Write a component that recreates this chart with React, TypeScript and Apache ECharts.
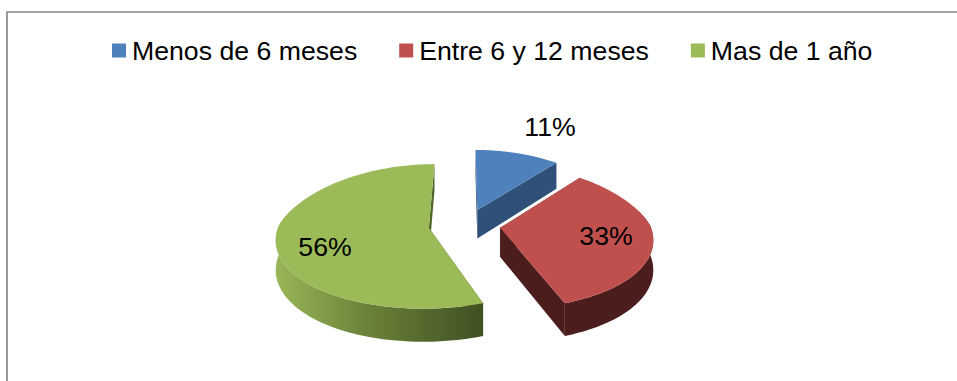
import React, { useEffect, useRef } from "react";
import * as echarts from "echarts";

const categories = ["Menos de 6 meses", "Entre 6 y 12 meses", "Mas de 1 año"];
const counts = [1, 3, 5];
const topColors = ["#4f81bd", "#c0504d", "#9bbb59"];
const wallColors = ["#2f5079", "#4b1d1c", ""];

// layout of the tilted, exploded disc
const CX = 466, CY = 225, RX = 150, RY = 70.6, KX_BACK = 0.2, KX_FRONT = 0.14, KY = 0.118, DEPTH = 29, EXPLODE = 0.23;
const sliceNudgeX = [0, 0, -3];
const labelCentres = [[550, 127], [606, 236], [325, 247]];
const FONT = '"Liberation Sans", Arial, sans-serif';

const total = counts.reduce((a, b) => a + b, 0);

function project(u: number, v: number, drop = 0, nudge = 0): number[] {
  const sx = 1 / (1 - (v < 0 ? KX_BACK : KX_FRONT) * v);
  const sy = 1 / (1 - KY * v);
  return [CX + nudge + RX * u * sx, CY + RY * v * sy + drop * sy];
}

function makeSeries(index: number) {
  const before = counts.slice(0, index).reduce((a, b) => a + b, 0);
  const nudge = sliceNudgeX[index];
  const renderItem = (_p: any, api: any) => {
    const value = api.value(0) as number;
    const a0 = (before / total) * Math.PI * 2;
    const a1 = ((before + value) / total) * Math.PI * 2;
    const mid = (a0 + a1) / 2;
    const ou = Math.sin(mid) * EXPLODE;
    const ov = -Math.cos(mid) * EXPLODE;
    const rim: number[][] = [];
    const steps = 90;
    for (let i = 0; i <= steps; i++) {
      const a = a0 + ((a1 - a0) * i) / steps;
      rim.push([ou + Math.sin(a), ov - Math.cos(a)]);
    }
    const top = rim.map(([u, v]) => project(u, v, 0, nudge));
    const apex = project(ou, ov, 0, nudge);
    const apexLow = project(ou, ov, DEPTH, nudge);
    const first = rim[0];
    const last = rim[rim.length - 1];
    const wallFill: any =
      index === 2
        ? new echarts.graphic.LinearGradient(0, 0, 1, 0, [
            { offset: 0, color: "#98b757" },
            { offset: 0.45, color: "#6a8139" },
            { offset: 1, color: "#3f5021" },
          ])
        : wallColors[index];
    const radialFill = index === 2 ? "#4f6628" : wallColors[index];
    const frontRim = rim
      .map(([u, v]) => ({ a: project(u, v, 0, nudge), b: project(u, v, DEPTH, nudge) }))
      .filter((_, i) => {
        const a = a0 + ((a1 - a0) * i) / steps;
        return Math.cos(a) < 0.25;
      });
    const children: any[] = [
      {
        type: "polygon",
        shape: {
          points: [apex, project(first[0], first[1], 0, nudge), project(first[0], first[1], DEPTH, nudge), apexLow],
        },
        style: { fill: radialFill },
      },
      {
        type: "polygon",
        shape: {
          points: [apex, project(last[0], last[1], 0, nudge), project(last[0], last[1], DEPTH, nudge), apexLow],
        },
        style: { fill: radialFill },
      },
    ];
    if (frontRim.length > 1) {
      children.push({
        type: "polygon",
        shape: {
          points: [...frontRim.map((p) => p.a), ...frontRim.slice().reverse().map((p) => p.b)],
        },
        style: { fill: wallFill },
      });
    }
    children.push({
      type: "polygon",
      shape: { points: [apex, ...top] },
      style: { fill: topColors[index] },
    });
    children.push({
      type: "text",
      x: labelCentres[index][0],
      y: labelCentres[index][1],
      style: {
        text: `${Math.round((value / total) * 100)}%`,
        fill: "#000000",
        font: `26.67px ${FONT}`,
        textAlign: "center",
        textVerticalAlign: "middle",
      },
    });
    return { type: "group", children };
  };
  return {
    type: "custom" as const,
    name: categories[index],
    coordinateSystem: "none",
    data: [[counts[index]]],
    itemStyle: { color: topColors[index] },
    renderItem,
    silent: true,
  };
}

export default function App() {
  const ref = useRef<HTMLDivElement>(null);
  useEffect(() => {
    const chart = echarts.init(ref.current!, undefined, { renderer: "svg" });
    chart.setOption({
      animation: false,
      backgroundColor: "#ffffff",
      legend: {
        show: true,
        left: 112,
        top: 37,
        padding: 0,
        itemWidth: 14,
        itemHeight: 14,
        itemGap: 42,
        selectedMode: false,
        icon: "rect",
        data: categories,
        textStyle: {
          color: "#000000",
          fontFamily: "Liberation Sans",
          fontSize: 26.67,
          padding: [0, 0, 0, 1],
        },
      },
      graphic: [
        {
          type: "polyline",
          silent: true,
          shape: { points: [[7, 381], [7, 12], [957, 12]] },
          style: { stroke: "#868686", lineWidth: 1.7, fill: "none" },
        },
      ],
      series: counts.map((_, i) => makeSeries(i)),
    });
    return () => chart.dispose();
  }, []);
  return (
    <div
      ref={ref}
      style={{ position: "fixed", left: 0, top: 0, width: 957, height: 381 }}
    />
  );
}
